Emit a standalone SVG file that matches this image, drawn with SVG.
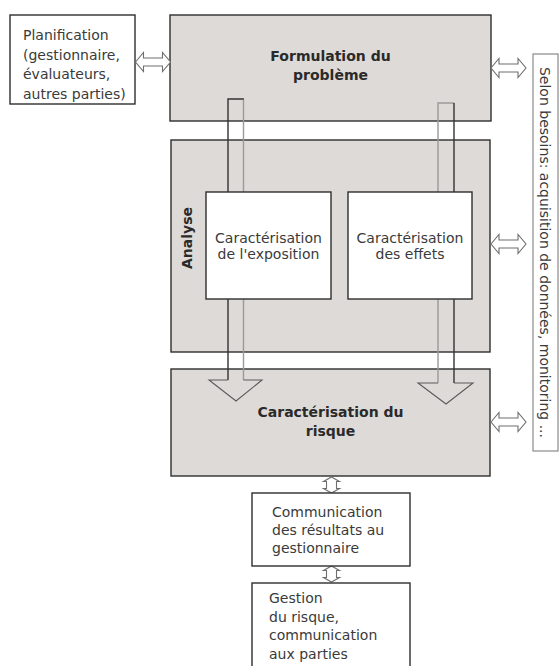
<svg xmlns="http://www.w3.org/2000/svg" xmlns:xlink="http://www.w3.org/1999/xlink" width="560" height="666" viewBox="0 0 560 666">
<style>
.box{fill:#dedad7;stroke:#2e2e2e;stroke-width:1.4}
.wbox{fill:#ffffff;stroke:#2e2e2e;stroke-width:1.4}
.t{font-family:"DejaVu Sans",sans-serif;font-size:14px;fill:#3a3a3a}
.tb{font-family:"DejaVu Sans",sans-serif;font-size:14px;font-weight:bold;fill:#2a2a2a}
.dbl{fill:#ffffff;stroke:#6e6e6e;stroke-width:1.1;stroke-linejoin:miter}
.dark{stroke:#333333;stroke-width:1.4;fill:none}
.light{stroke:#9a9a9a;stroke-width:1.4;fill:none}
.head{stroke:#5a5a5a;stroke-width:1.1;fill:none}
</style>
<defs>
<polygon id="harrow" points="-17.5,0 -9.5,-9.5 -9.5,-4 9.5,-4 9.5,-9.5 17.5,0 9.5,9.5 9.5,4 -9.5,4 -9.5,9.5"/>
<polygon id="varrow" points="0,-8 8,-3.5 5,-3.5 5,3.5 8,3.5 0,8 -8,3.5 -5,3.5 -5,-3.5 -8,-3.5"/>
</defs>

<g id="planification">
<rect class="wbox" x="10" y="15" width="125" height="89"/>
<text class="t" x="23" y="40">Planification</text>
<text class="t" x="23" y="59.5">(gestionnaire,</text>
<text class="t" x="23" y="79">évaluateurs,</text>
<text class="t" x="23" y="98.5">autres parties)</text>
</g>

<g id="formulation">
<rect class="box" x="170" y="15" width="321" height="106"/>
<text class="tb" x="330.5" y="61" text-anchor="middle">Formulation du</text>
<text class="tb" x="330.5" y="80" text-anchor="middle">problème</text>
</g>

<g id="analyse">
<rect class="box" x="171" y="140" width="319" height="212"/>
<text class="tb" font-size="13" transform="translate(192,238) rotate(-90)" text-anchor="middle">Analyse</text>
</g>

<g id="risque">
<rect class="box" x="171" y="369" width="319" height="107"/>
<text class="tb" x="330.5" y="417" text-anchor="middle">Caractérisation du</text>
<text class="tb" x="330.5" y="436" text-anchor="middle">risque</text>
</g>

<g id="connectors">
<!-- left big down arrow -->
<polyline class="dark" points="228,380 228,99 244,99"/>
<line class="light" x1="243.5" y1="99.7" x2="243.5" y2="380"/>
<polyline class="head" points="228,380 209,380 236,401 262,380 243.5,380"/>
<!-- right big down arrow -->
<polyline class="light" points="438,383 438,103 454,103"/>
<line class="dark" x1="454" y1="103" x2="454" y2="383"/>
<polyline class="head" points="438,383 418,383 446,404 473,383 454,383"/>
<!-- horizontal double arrows -->
<use xlink:href="#harrow" class="dbl" x="153" y="62"/>
<use xlink:href="#harrow" class="dbl" x="508.5" y="68"/>
<use xlink:href="#harrow" class="dbl" x="508.5" y="244"/>
<use xlink:href="#harrow" class="dbl" x="508.5" y="422"/>
<!-- vertical small double arrows -->
<use xlink:href="#varrow" class="dbl" x="331.5" y="485"/>
<use xlink:href="#varrow" class="dbl" x="331.5" y="574"/>
</g>

<g id="exposition">
<rect class="wbox" x="206" y="192" width="125" height="107"/>
<text class="t" font-size="13" x="268.5" y="243" text-anchor="middle">Caractérisation</text>
<text class="t" font-size="13" x="268.5" y="259" text-anchor="middle">de l'exposition</text>
</g>

<g id="effets">
<rect class="wbox" x="348" y="192" width="124" height="107"/>
<text class="t" font-size="13" x="410" y="243" text-anchor="middle">Caractérisation</text>
<text class="t" font-size="13" x="410" y="259" text-anchor="middle">des effets</text>
</g>

<g id="besoins">
<rect x="533" y="54" width="25" height="397" fill="#ffffff" stroke="#8a8a8a" stroke-width="1.2"/>
<text class="t" font-size="14.5" transform="translate(540,252.5) rotate(90)" text-anchor="middle">Selon besoins: acquisition de données, monitoring ...</text>
</g>

<g id="communication">
<rect class="wbox" x="252" y="493" width="158" height="73"/>
<text class="t" font-size="13.5" x="272" y="517">Communication</text>
<text class="t" font-size="13.5" x="272" y="535">des résultats au</text>
<text class="t" font-size="13.5" x="272" y="553">gestionnaire</text>
</g>

<g id="gestion">
<rect class="wbox" x="252" y="583" width="158" height="90"/>
<text class="t" font-size="13.5" x="269" y="603">Gestion</text>
<text class="t" font-size="13.5" x="269" y="621.5">du risque,</text>
<text class="t" font-size="13.5" x="269" y="640">communication</text>
<text class="t" font-size="13.5" x="269" y="658.5">aux parties</text>
</g>
</svg>
